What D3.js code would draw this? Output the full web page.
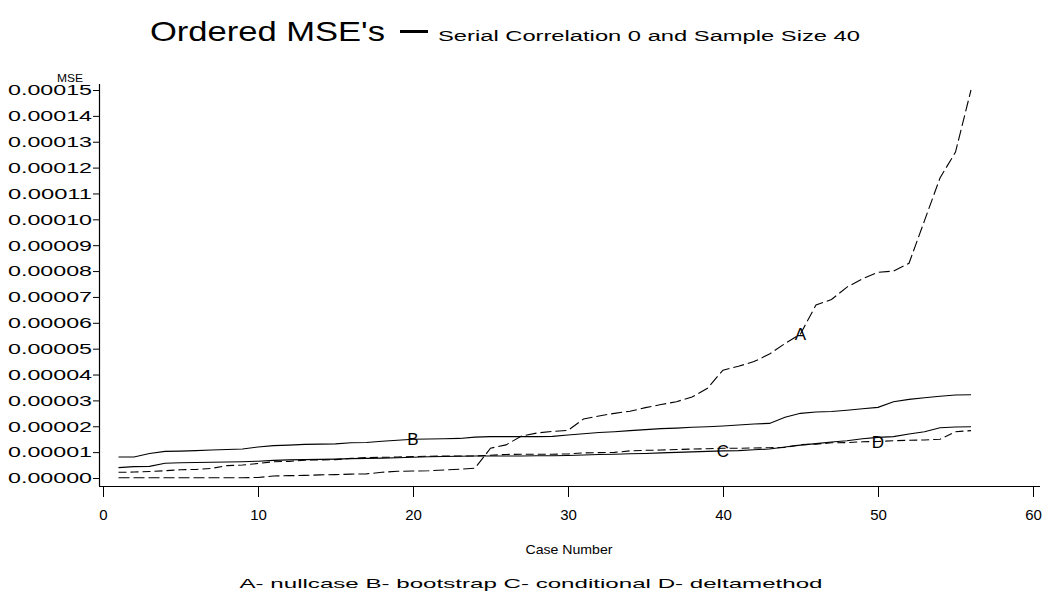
<!DOCTYPE html>
<html>
<head>
<meta charset="utf-8">
<script src="https://cdn.jsdelivr.net/npm/d3@7"></script>
<style>
  html, body { margin: 0; padding: 0; background: #fff; }
  svg { display: block; }
  text { font-family: "Liberation Sans", Arial, sans-serif; fill: #000; }
</style>
</head>
<body>
<svg id="chart" width="1053" height="598"></svg>
<script>
// Case numbers 1..56 (ordered)
const cases = d3.range(1, 57);

// MSE values, in units of 1e-5
const nullcase = [0.01,0.01,0.01,0.01,0.01,0.01,0.01,0.01,0.01,0.02,
  0.08,0.09,0.10,0.12,0.13,0.15,0.16,0.22,0.26,0.27,
  0.28,0.31,0.34,0.38,1.15,1.28,1.62,1.74,1.80,1.84,
  2.28,2.40,2.50,2.58,2.72,2.84,2.95,3.13,3.47,4.17,
  4.32,4.50,4.79,5.20,5.57,6.69,6.90,7.38,7.70,7.95,
  8.00,8.30,9.95,11.6,12.6,15.0];
const bootstrap = [0.81,0.81,0.95,1.03,1.04,1.06,1.08,1.10,1.12,1.20,
  1.25,1.27,1.30,1.31,1.32,1.36,1.37,1.42,1.46,1.50,
  1.51,1.52,1.53,1.58,1.60,1.60,1.60,1.60,1.61,1.66,
  1.71,1.76,1.79,1.83,1.87,1.91,1.93,1.96,1.98,2.01,
  2.05,2.09,2.11,2.35,2.50,2.55,2.57,2.62,2.68,2.73,
  2.95,3.04,3.10,3.16,3.21,3.22];
const conditional = [0.40,0.44,0.45,0.57,0.59,0.60,0.61,0.62,0.63,0.65,
  0.68,0.70,0.71,0.72,0.73,0.75,0.76,0.77,0.78,0.80,
  0.82,0.83,0.84,0.85,0.85,0.85,0.85,0.86,0.86,0.87,
  0.89,0.91,0.92,0.94,0.95,0.97,0.99,1.01,1.03,1.05,
  1.06,1.09,1.12,1.20,1.27,1.33,1.39,1.44,1.52,1.57,
  1.60,1.70,1.79,1.94,1.97,1.98];
const deltamethod = [0.22,0.23,0.25,0.28,0.32,0.33,0.37,0.48,0.50,0.56,
  0.63,0.64,0.69,0.70,0.71,0.76,0.79,0.80,0.81,0.83,
  0.84,0.85,0.85,0.85,0.88,0.91,0.92,0.92,0.92,0.93,
  0.97,0.98,0.99,1.05,1.07,1.08,1.10,1.12,1.13,1.15,
  1.15,1.16,1.17,1.18,1.29,1.31,1.36,1.37,1.40,1.41,
  1.44,1.46,1.47,1.50,1.79,1.83];

// Series letters, names and the case at which each letter is printed
const letters = ["A", "B", "C", "D"];
const seriesNames = ["nullcase", "bootstrap", "conditional", "deltamethod"];
const labelCases = [45, 20, 40, 50];
const seriesValues = [nullcase, bootstrap, conditional, deltamethod];

const xTicks = [0, 10, 20, 30, 40, 50, 60];
const yTicks = d3.range(0, 16).map(i => i * 1e-5);

const titleMain = "Ordered MSE's";
const titleSub = "Serial Correlation 0 and Sample Size 40";
const xTitle = "Case Number";
const yTitle = "MSE";

const svg = d3.select("#chart");

const x = d3.scaleLinear().domain([0, 60]).range([103, 1033]);
const y = d3.scaleLinear().domain([0, 0.00015]).range([478, 90]);

// Stretch a text node to a given width (the plot font is wide)
function fit(sel, w) {
  sel.attr("textLength", w).attr("lengthAdjust", "spacingAndGlyphs");
}

// Title
fit(svg.append("text").attr("x", 150).attr("y", 41)
  .attr("font-size", 28).text(titleMain), 235);
svg.append("rect").attr("x", 400).attr("y", 30).attr("width", 28).attr("height", 3).attr("fill", "#000");
fit(svg.append("text").attr("x", 438).attr("y", 41)
  .attr("font-size", 14).text(titleSub), 422);

// Y axis
const yAxis = svg.append("g")
  .attr("transform", "translate(99,0)")
  .call(d3.axisLeft(y).tickValues(yTicks).tickFormat(d3.format(".5f"))
    .tickSize(6).tickSizeOuter(0).tickPadding(1));
yAxis.select(".domain").attr("stroke", "#000").attr("stroke-width", 1.2)
  .attr("d", `M0.5,${y(0.00015) - 6}V486`);
yAxis.selectAll(".tick line").attr("stroke", "#000");
yAxis.selectAll(".tick text").attr("font-size", 15)
  .attr("font-family", "'Liberation Sans', Arial, sans-serif")
  .each(function () { fit(d3.select(this), 84); });

// Y title
fit(svg.append("text").attr("x", 83).attr("y", 82).attr("text-anchor", "end")
  .attr("font-size", 11).text(yTitle), 26);

// X axis
const xAxis = svg.append("g")
  .attr("transform", "translate(0,486)")
  .call(d3.axisBottom(x).tickValues(xTicks).tickFormat(d3.format("d"))
    .tickSize(11).tickSizeOuter(0).tickPadding(12));
xAxis.select(".domain").attr("stroke", "#000").attr("stroke-width", 1.2)
  .attr("d", "M99,0.5H1040");
xAxis.selectAll(".tick line").attr("stroke", "#000");
xAxis.selectAll(".tick text").attr("font-size", 15)
  .attr("font-family", "'Liberation Sans', Arial, sans-serif");

// X title and legend line
fit(svg.append("text").attr("x", 569).attr("y", 554).attr("text-anchor", "middle")
  .attr("font-size", 13).text(xTitle), 87);
const legendText = letters.map((l, i) => `${l}- ${seriesNames[i]}`).join(" ");
fit(svg.append("text").attr("x", 531).attr("y", 588).attr("text-anchor", "middle")
  .attr("font-size", 13).text(legendText), 583);

// Lines
const dashes = ["11,4", null, null, "8,4"];
const line = d3.line().x((d, i) => x(cases[i])).y(d => y(d * 1e-5));
seriesValues.forEach((vals, k) => {
  svg.append("path").datum(vals)
    .attr("d", line)
    .attr("fill", "none")
    .attr("stroke", "#000")
    .attr("stroke-width", 1.1)
    .attr("stroke-dasharray", dashes[k]);
});

// Letter markers on each curve
seriesValues.forEach((vals, k) => {
  const c = labelCases[k];
  svg.append("text")
    .attr("x", x(c)).attr("y", y(vals[c - 1] * 1e-5) + 6)
    .attr("text-anchor", "middle")
    .attr("font-size", 17)
    .text(letters[k]);
});
</script>
</body>
</html>
